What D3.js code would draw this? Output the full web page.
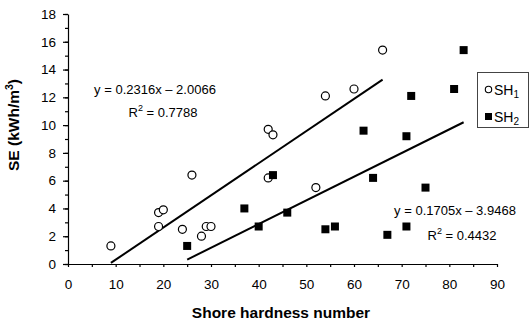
<!DOCTYPE html>
<html>
<head>
<meta charset="utf-8">
<script src="https://cdn.jsdelivr.net/npm/d3@7"></script>
<style>
  body { margin: 0; background: #fff; }
  svg { display: block; font-family: Arial, "Liberation Sans", Helvetica, sans-serif; }
</style>
</head>
<body>
<svg id="chart" width="529" height="323"></svg>
<script>
// SH1 (open circles)
const sh1X = [9, 19, 20, 19, 24, 26, 28, 29, 30, 42, 43, 42, 52, 54, 60, 66];
const sh1Y = [1.3, 3.7, 3.9, 2.7, 2.5, 6.4, 2.0, 2.7, 2.7, 9.7, 9.3, 6.2, 5.5, 12.1, 12.6, 15.4];
// SH2 (filled squares)
const sh2X = [25, 37, 40, 43, 46, 54, 56, 62, 64, 67, 71, 71, 72, 75, 81, 83];
const sh2Y = [1.3, 4.0, 2.7, 6.4, 3.7, 2.5, 2.7, 9.6, 6.2, 2.1, 2.7, 9.2, 12.1, 5.5, 12.6, 15.4];

// regression fits: slope, intercept, x extent of the drawn line
const fit1 = { slope: 0.2316, intercept: -2.0066, from: 9, to: 66, eq: 'y = 0.2316x \u2013 2.0066', r2: '0.7788' };
const fit2 = { slope: 0.1705, intercept: -3.9468, from: 25, to: 83, eq: 'y = 0.1705x \u2013 3.9468', r2: '0.4432' };

const xTicks = d3.range(0, 91, 5);
const xLabels = d3.range(0, 91, 10);
const yMinor = d3.range(0, 19, 1);
const yMajor = d3.range(0, 19, 2);

const svg = d3.select('#chart');

const x = d3.scaleLinear().domain([0, 90]).range([68, 497]);
const y = d3.scaleLinear().domain([0, 18]).range([264, 14]);

// x axis
svg.append('g')
  .attr('transform', `translate(0,${y(0)})`)
  .call(d3.axisBottom(x).tickValues(xTicks).tickSize(3).tickSizeOuter(0).tickPadding(12)
    .tickFormat(d => (xLabels.includes(d) ? d : '')))
  .call(g => g.selectAll('text').attr('font-size', 13.5).attr('fill', '#000').attr('font-family', null));

// y axis - minor ticks
svg.append('g')
  .attr('transform', `translate(${x(0)},0)`)
  .call(d3.axisLeft(y).tickValues(yMinor).tickSize(3).tickSizeOuter(0).tickFormat(''))
  .call(g => g.select('.domain').remove());

// y axis - major ticks with labels
svg.append('g')
  .attr('transform', `translate(${x(0)},0)`)
  .call(d3.axisLeft(y).tickValues(yMajor).tickSize(5).tickSizeOuter(0).tickPadding(7))
  .call(g => g.selectAll('text').attr('font-size', 13.5).attr('fill', '#000').attr('font-family', null));

svg.selectAll('.domain, .tick line').attr('stroke', '#000').attr('stroke-width', 1.2);

// axis titles
svg.append('text')
  .attr('x', 281).attr('y', 318)
  .attr('text-anchor', 'middle')
  .attr('font-size', 15.5).attr('font-weight', 'bold')
  .text('Shore hardness number');

const yTitle = svg.append('text')
  .attr('transform', 'translate(19,125) rotate(-90)')
  .attr('text-anchor', 'middle')
  .attr('font-size', 15.5).attr('font-weight', 'bold');
yTitle.append('tspan').text('SE (kWh/m');
yTitle.append('tspan').attr('dy', -6).attr('font-size', 10.5).text('3');
yTitle.append('tspan').attr('dy', 6).text(')');

// trend lines
const line = d3.line().x(d => x(d[0])).y(d => y(d[1]));
[fit1, fit2].forEach(f => {
  svg.append('path')
    .datum([f.from, f.to].map(v => [v, f.slope * v + f.intercept]))
    .attr('fill', 'none')
    .attr('stroke', '#000')
    .attr('stroke-width', 2)
    .attr('d', line);
});

// points
svg.append('g').selectAll('circle')
  .data(d3.zip(sh1X, sh1Y))
  .join('circle')
  .attr('cx', d => x(d[0]))
  .attr('cy', d => y(d[1]))
  .attr('r', 4)
  .attr('fill', '#fff')
  .attr('stroke', '#000')
  .attr('stroke-width', 1.2);

svg.append('g').selectAll('rect')
  .data(d3.zip(sh2X, sh2Y))
  .join('rect')
  .attr('x', d => x(d[0]) - 4)
  .attr('y', d => y(d[1]) - 4)
  .attr('width', 8)
  .attr('height', 8)
  .attr('fill', '#000');

// equations
function equation(f, cx, by, rcx, rby) {
  svg.append('text')
    .attr('x', cx).attr('y', by)
    .attr('text-anchor', 'middle')
    .attr('font-size', 13)
    .text(f.eq);
  const t = svg.append('text')
    .attr('x', rcx).attr('y', rby)
    .attr('text-anchor', 'middle')
    .attr('font-size', 13);
  t.append('tspan').text('R');
  t.append('tspan').attr('dy', -6).attr('font-size', 9).text('2');
  t.append('tspan').attr('dy', 6).text(' = ' + f.r2);
}
equation(fit1, 155, 94, 163, 117);
equation(fit2, 455, 215, 462, 240);

// legend
const lg = svg.append('g');
lg.append('rect')
  .attr('x', 477.5).attr('y', 72.5)
  .attr('width', 51).attr('height', 55)
  .attr('fill', '#fff')
  .attr('stroke', '#444')
  .attr('stroke-width', 1);
lg.append('circle')
  .attr('cx', 488.5).attr('cy', 89.5).attr('r', 3.2)
  .attr('fill', '#fff').attr('stroke', '#000').attr('stroke-width', 1.1);
lg.append('rect')
  .attr('x', 485).attr('y', 113).attr('width', 7).attr('height', 7)
  .attr('fill', '#000');
[['1', 94.5], ['2', 121.5]].forEach(([s, by]) => {
  const t = lg.append('text').attr('x', 494).attr('y', by).attr('font-size', 14);
  t.append('tspan').text('SH');
  t.append('tspan').attr('dy', 3).attr('font-size', 10).text(s);
});
</script>
</body>
</html>
